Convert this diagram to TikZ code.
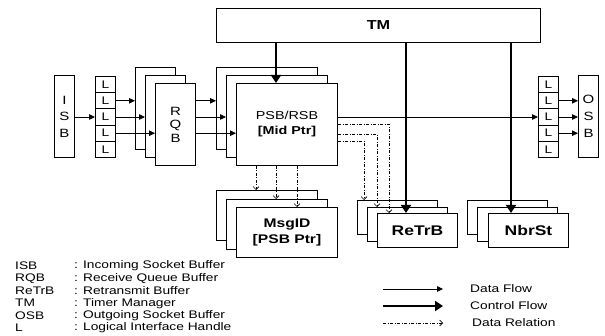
\documentclass[tikz,border=0pt]{standalone}
\usepackage{fontspec}
\setmainfont{Liberation Sans}[FakeStretch=1.25]
\usetikzlibrary{arrows.meta,calc}

\tikzset{
  lay/.style={draw,fill=white,line width=1pt,inner sep=0pt,anchor=north west},
  cell/.style={draw,fill=white,line width=1pt,inner sep=0pt,anchor=north west,
    minimum width=20,minimum height=16.2,font=\fontsize{11}{12}\selectfont},
  flow/.style={line width=.8pt,-{Triangle[length=6pt,width=5.5pt]}},
  ctrl/.style={line width=2.4pt,-{Triangle[length=8pt,width=10pt]}},
  rel/.style={line width=.6pt,dash pattern=on 3pt off 1.5pt on 1pt off 1.5pt,
    -{Straight Barb[length=3pt,width=6pt]}},
  legtext/.style={anchor=west,inner sep=0pt,font=\fontsize{11}{12}\selectfont},
}

\begin{document}
\begin{tikzpicture}[x=1pt,y=-1pt]
  \useasboundingbox (0,0) rectangle (605,336);

  % timer manager
  \node[lay,minimum width=324,minimum height=34,
    font=\fontsize{13}{15}\selectfont\bfseries] (tm) at (216,8) {TM};

  % incoming side
  \node[lay,minimum width=20,minimum height=82,align=center,
    font=\fontsize{12}{16.5}\selectfont] (isb) at (54,75) {I\\S\\B};
  \foreach \i in {1,...,5}
    \node[cell] (lL\i) at (95,{76+16.2*(\i-1)}) {L};

  \node[lay,minimum width=40,minimum height=82] (rqbA) at (135,67) {};
  \node[lay,minimum width=40,minimum height=82] (rqbB) at (145,75) {};
  \node[lay,minimum width=40,minimum height=82,align=center,
    font=\fontsize{12}{13.5}\selectfont] (rqbC) at (155,83) {R\\Q\\B};

  % packet / receive buffers
  \node[lay,minimum width=101,minimum height=82] (psbA) at (216,67) {};
  \node[lay,minimum width=101,minimum height=82] (psbB) at (226,75) {};
  \node[lay,minimum width=101,minimum height=82,align=center,
    font=\fontsize{11.5}{15}\selectfont] (psbC) at (236,83) {PSB/RSB\\\textbf{[Mid Ptr]}};

  \node[lay,minimum width=101,minimum height=50] (msgA) at (216,190) {};
  \node[lay,minimum width=101,minimum height=50] (msgB) at (226,199) {};
  \node[lay,minimum width=101,minimum height=50,align=center,
    font=\fontsize{12.5}{16}\selectfont\bfseries] (msgC) at (236,207) {MsgID\\{[PSB Ptr]}};

  \node[lay,minimum width=80,minimum height=34] (retA) at (357,200) {};
  \node[lay,minimum width=80,minimum height=34] (retB) at (367,207) {};
  \node[lay,minimum width=80,minimum height=34,
    font=\fontsize{14}{16}\selectfont\bfseries] (retC) at (377,213) {ReTrB};

  \node[lay,minimum width=80,minimum height=34] (nbrA) at (467,200) {};
  \node[lay,minimum width=80,minimum height=34] (nbrB) at (477,207) {};
  \node[lay,minimum width=80,minimum height=34,
    font=\fontsize{14}{16}\selectfont\bfseries] (nbrC) at (488,213) {NbrSt};

  % outgoing side
  \foreach \i in {1,...,5}
    \node[cell] (rL\i) at (538,{76+16.2*(\i-1)}) {L};
  \node[lay,minimum width=20,minimum height=82,align=center,
    font=\fontsize{12}{17}\selectfont] (osb) at (578,75) {O\\S\\B};

  % data flow
  \draw[flow] (isb.east |- lL3.west) -- (lL3.west);
  \draw[flow] (lL2.east) -- (lL2.east -| rqbA.west);
  \draw[flow] (lL3.east) -- (lL3.east -| rqbB.west);
  \draw[flow] (lL4.east) -- (lL4.east -| rqbC.west);
  \draw[flow] (rqbC.east |- lL2.east) -- (lL2.east -| psbA.west);
  \draw[flow] (rqbC.east |- lL3.east) -- (lL3.east -| psbB.west);
  \draw[flow] (rqbC.east |- lL4.east) -- (lL4.east -| psbC.west);
  \draw[flow] (psbC.east |- rL3.west) -- (rL3.west);
  \draw[flow] (rL2.east) -- (rL2.east -| osb.west);
  \draw[flow] (rL3.east) -- (rL3.east -| osb.west);
  \draw[flow] (rL4.east) -- (rL4.east -| osb.west);

  % data relation
  \coordinate (d1) at (256,0);
  \coordinate (d2) at (276,0);
  \coordinate (d3) at (297,0);
  \draw[rel] (d1 |- psbC.south) -- (d1 |- msgA.north);
  \draw[rel] (d2 |- psbC.south) -- (d2 |- msgB.north);
  \draw[rel] (d3 |- psbC.south) -- (d3 |- msgC.north);

  \coordinate (e1) at (364,0);
  \coordinate (e2) at (377,0);
  \coordinate (e3) at (389,0);
  \draw[rel] (psbC.east) -| (e3 |- retC.north);
  \draw[rel] ($(psbC.east)+(0,10)$) -| (e2 |- retB.north);
  \draw[rel] ($(psbC.east)+(0,17)$) -| (e1 |- retA.north);

  % control flow
  \coordinate (k1) at (276,0);
  \coordinate (k2) at (406,0);
  \coordinate (k3) at (511,0);
  \draw[ctrl] (k1 |- tm.south) -- (k1 |- psbC.north);
  \draw[ctrl] (k2 |- tm.south) -- (k2 |- retC.north);
  \draw[ctrl] (k3 |- tm.south) -- (k3 |- nbrC.north);

  % legend
  \foreach \ab/\txt [count=\i] in {ISB/Incoming Socket Buffer,
      RQB/Receive Queue Buffer,ReTrB/Retransmit Buffer,TM/Timer Manager,
      OSB/Outgoing Socket Buffer,L/Logical Interface Handle}{
    \node[legtext] (ab\i) at (15,{266+12.4*(\i-1)}) {\ab};
    \node[legtext] (tx\i) at (74,{266+12.4*(\i-1)}) {: \txt};
  }

  \node[legtext] (lf1) at (470,289) {Data Flow};
  \node[legtext] (lf2) at (470,306) {Control Flow};
  \node[legtext] (lf3) at (472,323) {Data Relation};
  \coordinate (la1) at (383,289);
  \coordinate (la2) at (383,306);
  \coordinate (la3) at (383,323);
  \draw[flow] (la1) -- ++(60,0);
  \draw[ctrl] (la2) -- ++(60,0);
  \draw[rel] (la3) -- ++(60,0);
\end{tikzpicture}
\end{document}
